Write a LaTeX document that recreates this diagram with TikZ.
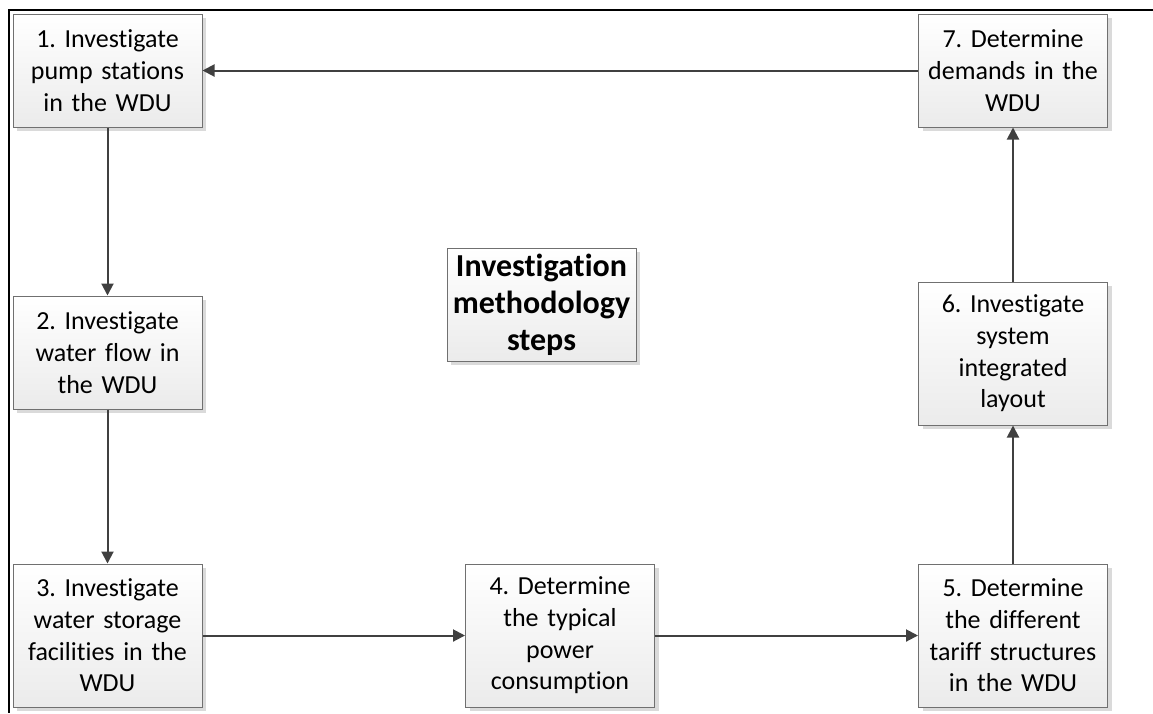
\documentclass[tikz,border=0pt]{standalone}
\usepackage{fontspec}
\setmainfont{Carlito}[Ligatures={NoCommon}]
\frenchspacing
\usetikzlibrary{arrows.meta,shadows}
\definecolor{boxedge}{HTML}{707070}
\definecolor{boxfill}{HTML}{EBEBEB}
\definecolor{shadowgray}{HTML}{DADADA}
\definecolor{linkgray}{HTML}{404040}
\begin{document}
\begin{tikzpicture}[x=1pt,y=-1pt,
  stepbox/.style={draw=boxedge, line width=1pt, top color=white, bottom color=boxfill,
    minimum width=189pt, text width=185pt, align=center, inner sep=0pt,
    font=\fontsize{26}{31.7}\selectfont,
    drop shadow={shadow xshift=4pt, shadow yshift=-4pt, fill=shadowgray, opacity=1}},
  short/.style={minimum height=113pt},
  tall/.style={minimum height=143pt},
  titlebox/.style={stepbox, font=\bfseries\fontsize{32}{37}\selectfont},
  link/.style={draw=linkgray, line width=2pt, -{Triangle[length=12pt,width=12pt]}},
  frame/.style={draw=black, line width=2pt}]
\useasboundingbox (0,0) rectangle (1153,713);

% outer frame (top and left edges only)
\coordinate (ftl) at (9,10);
\coordinate (ftr) at (1153,10);
\coordinate (fbl) at (9,713);
\draw[frame] (ftr) -- (ftl) -- (fbl);

% steps
\node[stepbox, short] (s1) at (107.5,70.5) {1. Investigate\\pump stations\\in the WDU};
\node[stepbox, short] (s2) at (107.5,352.5) {2. Investigate\\water flow in\\the WDU};
\node[stepbox, tall]  (s3) at (107.5,635.5) {3. Investigate\\water storage\\facilities in the\\WDU};
\node[stepbox, tall]  (s4) at (560,635.5) {4. Determine\\the typical\\power\\consumption};
\node[stepbox, tall]  (s5) at (1013,635.5) {5. Determine\\the different\\tariff structures\\in the WDU};
\node[stepbox, tall]  (s6) at (1013,353.5) {6. Investigate\\system\\integrated\\layout};
\node[stepbox, short] (s7) at (1013,70.5) {7. Determine\\demands in the\\WDU};

% centre title
\node[titlebox, short] (title) at (541.5,304.5) {Investigation\\methodology\\steps};

% flow between steps
\draw[link] (s1) -- (s2);
\draw[link] (s2) -- (s3);
\draw[link] (s3) -- (s4);
\draw[link] (s4) -- (s5);
\draw[link] (s5) -- (s6);
\draw[link] (s6) -- (s7);
\draw[link] (s7) -- (s1);
\end{tikzpicture}
\end{document}
